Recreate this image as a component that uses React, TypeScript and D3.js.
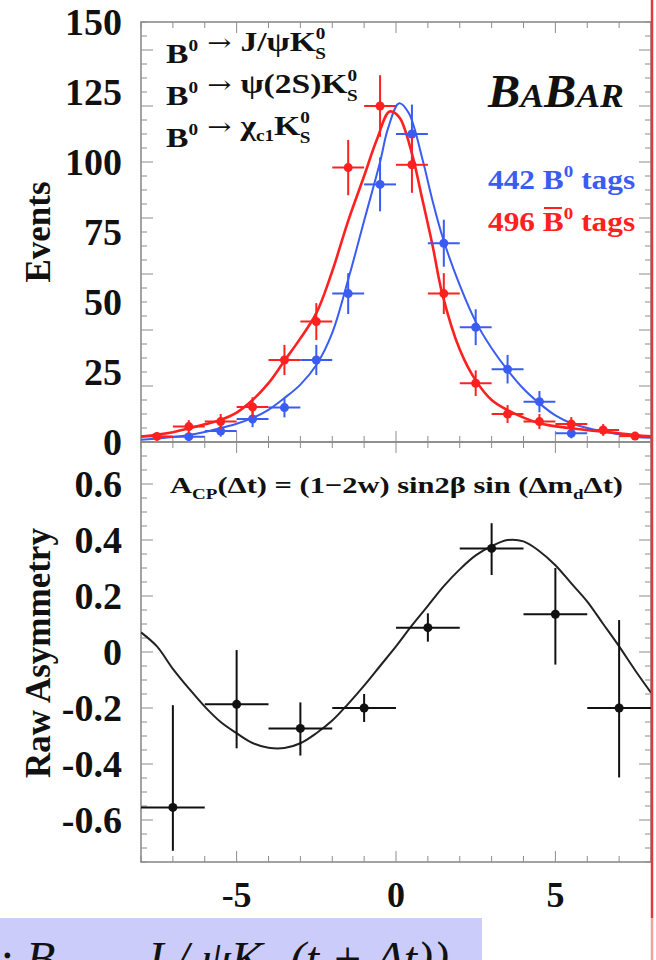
import React from 'react';
import * as d3 from 'd3';

const width = 656;
const height = 960;
const red = '#ff2020';
const blue = '#3a5cf2';
const frameColor = '#8c8c8c';
const serif = '"Liberation Serif", "Times New Roman", serif';

// top panel: events per 1 ps bin
const redBins = [-7.5, -6.5, -5.5, -4.5, -3.5, -2.5, -1.5, -0.5, 0.5, 1.5, 2.5, 3.5, 4.5, 5.5, 6.5, 7.5];
const redCounts = [2, 5.5, 7.3, 12.5, 29.3, 43, 98, 120, 99, 53, 21, 10, 7.3, 6.4, 4.3, 2.1];
const redErrors = [1.4, 2.3, 2.7, 3.5, 5.4, 6.6, 9.9, 11, 10, 7.3, 4.6, 3.2, 2.7, 2.5, 2.1, 1.4];

const blueBins = [-6.5, -5.5, -4.5, -3.5, -2.5, -1.5, -0.5, 0.5, 1.5, 2.5, 3.5, 4.5, 5.5];
const blueCounts = [1.9, 3.9, 8.2, 12.3, 29.3, 53, 92, 110, 71, 41, 26, 14.4, 3.1];
const blueErrors = [1.4, 2, 2.9, 3.5, 5.4, 7.3, 9.6, 10.5, 8.4, 6.4, 5.1, 3.8, 1.8];

// fit curves
const redFitT = [-8, -7, -6, -5.5, -5, -4.5, -4, -3.5, -3, -2.5, -2, -1.5, -1, -0.6, -0.2, 0.1, 0.5, 0.8, 1.15, 1.45, 2, 2.5, 3, 3.5, 4.5, 5.5, 6.5, 7.5, 8];
const redFitN = [1.9, 3.5, 6.3, 7.9, 10.5, 15, 21, 29, 37, 46, 61, 79, 95, 108, 118, 116, 103, 88, 70, 53, 33, 22, 15, 11.4, 6.7, 4.9, 3.7, 2.5, 2];

const blueFitT = [-8, -7, -6.5, -6, -5.5, -5, -4.5, -4, -3.5, -3, -2.5, -2, -1.5, -1, -0.5, -0.25, 0.1, 0.4, 0.83, 1.15, 1.48, 2, 2.5, 3, 3.5, 4, 4.5, 5, 5.5, 6.5, 7.5, 8];
const blueFitN = [0.8, 1.8, 2.5, 3.6, 5, 6.5, 8.6, 11.5, 15.7, 20.5, 27.5, 39, 58, 79, 100, 112, 121, 117.5, 101, 86, 72.5, 56, 43, 33.5, 25.7, 19, 13.8, 9.5, 6.7, 3.7, 1.9, 1.5];

// bottom panel: raw asymmetry per 2 ps bin
const asymBins = [-7, -5, -3, -1, 1, 3, 5, 7];
const asymValues = [-0.555, -0.187, -0.273, -0.2, 0.087, 0.37, 0.135, -0.2];
const asymErrUp = [0.365, 0.194, 0.093, 0.05, 0.051, 0.09, 0.165, 0.314];
const asymErrDown = [0.155, 0.157, 0.097, 0.05, 0.05, 0.095, 0.18, 0.248];

const asymFitT = [-8, -7.5, -7, -6.5, -6, -5.5, -5, -4.5, -4, -3.5, -3, -2.5, -2, -1.5, -1, -0.5, 0, 0.5, 1, 1.5, 2, 2.5, 3, 3.5, 4, 4.5, 5, 5.5, 6, 6.5, 7, 7.5, 8];
const asymFitA = [0.07, 0.02, -0.06, -0.13, -0.195, -0.25, -0.29, -0.325, -0.342, -0.343, -0.326, -0.29, -0.245, -0.185, -0.12, -0.05, 0.02, 0.095, 0.165, 0.235, 0.295, 0.345, 0.378, 0.4, 0.395, 0.36, 0.31, 0.245, 0.18, 0.1, 0.02, -0.065, -0.145];

const topTickLabels = [0, 25, 50, 75, 100, 125, 150];
const asymTickLabels = [0.6, 0.4, 0.2, 0, -0.2, -0.4, -0.6];
const xTickLabels = [-5, 0, 5];

const left = 141;
const right = 651;
const topY = 22;
const midY = 442;
const bottomY = 862;

const x = d3.scaleLinear().domain([-8, 8]).range([left, right]);
const yTop = d3.scaleLinear().domain([0, 150]).range([midY, topY]);
const yBot = d3.scaleLinear().domain([-0.75, 0.75]).range([bottomY, midY]);

function Frame({ y, top, bottom, major, minor }) {
  const xMinor = x.ticks(16);
  const yMinor = y.ticks(minor);
  const yMajor = y.ticks(major);
  const isMajorX = (v) => Math.abs(v % 5) < 1e-9;
  const isMajorY = (v) => yMajor.some((m) => Math.abs(m - v) < 1e-9);
  return (
    <g stroke={frameColor} fill="none">
      {xMinor.map((v) => {
        const len = isMajorX(v) ? 11 : 6;
        return (
          <g key={'x' + v} strokeWidth={1}>
            <line x1={x(v)} x2={x(v)} y1={bottom} y2={bottom - len} />
            <line x1={x(v)} x2={x(v)} y1={top} y2={top + len} />
          </g>
        );
      })}
      {yMinor.map((v) => {
        const len = isMajorY(v) ? 12 : 6;
        return (
          <g key={'y' + v} strokeWidth={1}>
            <line x1={left} x2={left + len} y1={y(v)} y2={y(v)} />
            <line x1={right} x2={right - len} y1={y(v)} y2={y(v)} />
          </g>
        );
      })}
      <rect x={left} y={top} width={right - left} height={bottom - top} strokeWidth={1.6} />
    </g>
  );
}

function Points({ bins, values, errUp, errDown, half, y, color }) {
  return (
    <g stroke={color} fill={color}>
      {bins.map((b, i) => (
        <g key={b}>
          <line x1={x(b - half)} x2={x(b + half)} y1={y(values[i])} y2={y(values[i])} strokeWidth={2} />
          <line x1={x(b)} x2={x(b)} y1={y(values[i] + errUp[i])} y2={y(values[i] - errDown[i])} strokeWidth={2} />
          <circle cx={x(b)} cy={y(values[i])} r={4.5} stroke="none" />
        </g>
      ))}
    </g>
  );
}

function SupSub({ sup, sub, size }) {
  return (
    <>
      <tspan fontSize={size} dy={-12}>{sup}</tspan>
      <tspan fontSize={size} dx={-size * 0.52} dy={20}>{sub}</tspan>
    </>
  );
}

function Arrow() {
  return <tspan fontFamily='"DejaVu Serif", serif' fontWeight="normal" fontSize={24}>{' → '}</tspan>;
}

export default function App() {
  const fitLine = (y) =>
    d3
      .line()
      .x((d) => x(d[0]))
      .y((d) => y(d[1]))
      .curve(d3.curveCatmullRom.alpha(0.5));

  const redFit = fitLine(yTop)(redFitT.map((t, i) => [t, redFitN[i]]));
  const blueFit = fitLine(yTop)(blueFitT.map((t, i) => [t, blueFitN[i]]));
  const asymFit = fitLine(yBot)(asymFitT.map((t, i) => [t, asymFitA[i]]));

  return (
    <svg
      width={width}
      height={height}
      style={{ position: 'absolute', left: 0, top: 0, background: '#fff' }}
      fontFamily={serif}
    >
      <defs>
        <clipPath id="clipTop">
          <rect x={left} y={topY} width={right - left} height={midY - topY} />
        </clipPath>
        <clipPath id="clipBot">
          <rect x={left} y={midY} width={right - left} height={bottomY - midY} />
        </clipPath>
      </defs>
      <rect width={width} height={height} fill="#fff" />

      <Frame y={yTop} top={topY} bottom={midY} major={6} minor={30} />
      <Frame y={yBot} top={midY} bottom={bottomY} major={7} minor={30} />

      {/* top panel */}
      <g clipPath="url(#clipTop)">
        <path d={blueFit} fill="none" stroke={blue} strokeWidth={2} />
        <path d={redFit} fill="none" stroke={red} strokeWidth={2.6} />
        <Points bins={blueBins} values={blueCounts} errUp={blueErrors} errDown={blueErrors} half={0.5} y={yTop} color={blue} />
        <Points bins={redBins} values={redCounts} errUp={redErrors} errDown={redErrors} half={0.5} y={yTop} color={red} />
      </g>

      {/* bottom panel */}
      <g clipPath="url(#clipBot)">
        <path d={asymFit} fill="none" stroke="#222" strokeWidth={2} />
        <Points bins={asymBins} values={asymValues} errUp={asymErrUp} errDown={asymErrDown} half={1} y={yBot} color="#111" />
      </g>

      {/* tick labels */}
      <g fontSize={38} fontWeight="bold" textAnchor="end" fill="#111">
        {topTickLabels.map((v) => (
          <text key={'t' + v} x={122} y={yTop(v)} dy="0.35em">{v}</text>
        ))}
        {asymTickLabels.map((v) => (
          <text key={'a' + v} x={122} y={yBot(v)} dy="0.35em">{v === 0 ? '0' : v.toFixed(1)}</text>
        ))}
      </g>
      <g fontSize={36} fontWeight="bold" textAnchor="middle" fill="#111">
        {xTickLabels.map((v) => (
          <text key={'x' + v} x={x(v)} y={907}>{v}</text>
        ))}
      </g>

      {/* axis titles */}
      <text transform="translate(50,232) rotate(-90)" textAnchor="middle" fontSize={35} fontWeight="bold" fill="#111">Events</text>
      <text transform="translate(50,653) rotate(-90)" textAnchor="middle" fontSize={35} fontWeight="bold" fill="#111">Raw Asymmetry</text>

      {/* decay modes */}
      <g fontWeight="bold" fill="#111">
        <g transform="translate(166,63) scale(1.2,1)">
          <text fontSize={28}>
            B<tspan fontSize={16} dy={-12}>0</tspan><tspan dy={12}></tspan><Arrow />J/ψK
            <SupSub sup="0" sub="S" size={16} />
          </text>
        </g>
        <g transform="translate(166,105) scale(1.2,1)">
          <text fontSize={28}>
            B<tspan fontSize={16} dy={-12}>0</tspan><tspan dy={12}></tspan><Arrow />ψ(2S)K
            <SupSub sup="0" sub="S" size={16} />
          </text>
        </g>
        <g transform="translate(166,147) scale(1.2,1)">
          <text fontSize={28}>
            B<tspan fontSize={16} dy={-12}>0</tspan><tspan dy={12}></tspan><Arrow />χ
            <tspan fontSize={16} dy={6}>c1</tspan><tspan dy={-6}>K</tspan>
            <SupSub sup="0" sub="S" size={16} />
          </text>
        </g>
      </g>

      {/* BaBar logo */}
      <g transform="translate(488,107) scale(1.05,1)">
        <text fontStyle="italic" fontWeight="bold" fill="#111">
          <tspan fontSize={46}>B</tspan>
          <tspan fontSize={34}>A</tspan>
          <tspan fontSize={46}>B</tspan>
          <tspan fontSize={34}>AR</tspan>
        </text>
      </g>

      {/* tag counts */}
      <g transform="translate(488,189) scale(1.12,1)" fill={blue} fontWeight="bold">
        <text fontSize={28}>
          442 B<tspan fontSize={17} dy={-12}>0</tspan><tspan dy={12}> tags</tspan>
        </text>
      </g>
      <g transform="translate(488,231) scale(1.12,1)" fill={red} fontWeight="bold">
        <text fontSize={28}>
          496 B<tspan fontSize={17} dy={-12}>0</tspan><tspan dy={12}> tags</tspan>
        </text>
        <line x1={50} x2={66} y1={-23} y2={-23} stroke={red} strokeWidth={2} />
      </g>

      {/* asymmetry formula */}
      <g transform="translate(170,493) scale(1.27,1)" fontWeight="bold" fill="#111">
        <text fontSize={24}>
          A<tspan fontSize={15} dy={6}>CP</tspan><tspan dy={-6}>(Δt) = (1−2w) sin2β sin (Δm</tspan>
          <tspan fontSize={15} dy={6}>d</tspan><tspan dy={-6}>Δt)</tspan>
        </text>
      </g>

      {/* slide banner at the bottom */}
      <rect x={0} y={918} width={482} height={50} fill="#ccccfa" />
      <text x={-2} y={975} fontSize={48} fontStyle="italic" fill="#111">
        : B<tspan fontSize={30} dy={8}>0</tspan><tspan dy={-8}> → J / ψK</tspan>
        <tspan fontSize={30} dy={8}>S</tspan><tspan dy={-8}> (t + Δt))</tspan>
      </text>

      {/* slide border line */}
      <line x1={652} x2={652} y1={0} y2={918} stroke="#e03a3a" strokeWidth={2.5} />
      <line x1={652} x2={652} y1={918} y2={960} stroke="#f2a0a0" strokeWidth={2.5} />
    </svg>
  );
}
